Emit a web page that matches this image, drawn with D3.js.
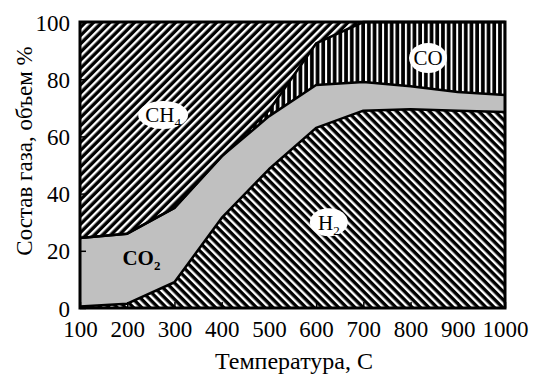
<!DOCTYPE html>
<html>
<head>
<meta charset="utf-8">
<script src="https://cdn.jsdelivr.net/npm/d3@7"></script>
<style>
  html, body { margin: 0; padding: 0; background: #fff; }
  svg text { font-family: "Liberation Serif", "Times New Roman", "DejaVu Serif", serif; fill: #000; }
</style>
</head>
<body>
<div id="chart"></div>
<script>
/* data: composition (vol. %) by temperature */
const temps = [100, 200, 300, 400, 500, 600, 700, 800, 900, 1000];
const h2    = [0.5, 1.5, 9,   31.5, 48.5, 63,  69,  69.5, 69,  68.5];
const co2   = [24,  24.5, 26, 21.5, 18.5, 15,  10,  8,    6.5, 6];
const co    = [0,   0,   0,   0,    2,    14.5, 21, 22.5, 24.5, 25.5];
const xTicks = [100, 200, 300, 400, 500, 600, 700, 800, 900, 1000];
const yTicks = [0, 20, 40, 60, 80, 100];
const keys = ["h2", "co2", "co", "ch4"];

const rows = temps.map((t, i) => ({
  t, h2: h2[i], co2: co2[i], co: co[i],
  ch4: Math.max(0, 100 - h2[i] - co2[i] - co[i])
}));

const W = 533, H = 374;
const margin = { top: 22, right: 28, bottom: 66, left: 80 };
const w = W - margin.left - margin.right;
const h = H - margin.top - margin.bottom;

const x = d3.scaleLinear().domain([100, 1000]).range([0, w]);
const y = d3.scaleLinear().domain([0, 100]).range([h, 0]);

const svg = d3.select("#chart").append("svg")
  .attr("width", W).attr("height", H);

// hatch patterns: black ground, white stripes
const defs = svg.append("defs");
function hatch(id, period, stripe, angle) {
  const p = defs.append("pattern")
    .attr("id", id).attr("patternUnits", "userSpaceOnUse")
    .attr("width", period).attr("height", period)
    .attr("patternTransform", `rotate(${angle})`);
  p.append("rect").attr("width", period).attr("height", period).attr("fill", "#000");
  p.append("rect").attr("x", 0).attr("width", stripe).attr("height", period).attr("fill", "#fff");
}
hatch("hatch-ch4", 5.8, 2.4, 45);
hatch("hatch-h2", 5.8, 2.4, -45);
hatch("hatch-co", 5.7, 2.0, 0);

const fills = { h2: "url(#hatch-h2)", co2: "#c0c0c0", co: "url(#hatch-co)", ch4: "url(#hatch-ch4)" };

const g = svg.append("g").attr("transform", `translate(${margin.left},${margin.top})`);

const series = d3.stack().keys(keys)(rows);

const area = d3.area()
  .x(d => x(d.data.t))
  .y0(d => y(d[0]))
  .y1(d => y(d[1]));

g.selectAll("path.layer").data(series).join("path")
  .attr("class", "layer")
  .attr("d", area)
  .attr("fill", d => fills[d.key]);

// boundary lines between layers
const edge = d3.line().x(d => x(d.data.t)).y(d => y(d[1]));
g.selectAll("path.edge").data(series.slice(0, 3)).join("path")
  .attr("class", "edge")
  .attr("d", edge)
  .attr("fill", "none")
  .attr("stroke", "#000")
  .attr("stroke-width", 2.5)
  .attr("stroke-linejoin", "round");

// frame
g.append("rect")
  .attr("x", 0).attr("y", 0).attr("width", w).attr("height", h)
  .attr("fill", "none").attr("stroke", "#000").attr("stroke-width", 3);

// axes
const yAxis = g.append("g").call(
  d3.axisLeft(y).tickValues(yTicks).tickSizeInner(-6).tickSizeOuter(0).tickPadding(10)
);
const xAxis = g.append("g").attr("transform", `translate(0,${h})`).call(
  d3.axisBottom(x).tickValues(xTicks).tickFormat(d3.format("d"))
    .tickSizeInner(-6).tickSizeOuter(0).tickPadding(13)
);
[xAxis, yAxis].forEach(a => {
  a.select(".domain").remove();
  a.selectAll(".tick line").attr("stroke", "#000").attr("stroke-width", 1.5);
  a.selectAll("text").attr("font-size", "23px")
    .attr("font-family", "Liberation Serif, serif").attr("fill", "#000");
});
yAxis.selectAll("text").attr("dy", "0.35em");

// titles
svg.append("text")
  .attr("x", 294).attr("y", 369)
  .attr("text-anchor", "middle").attr("font-size", "24px")
  .text("Температура, С");

svg.append("text")
  .attr("transform", "translate(32,151) rotate(-90)")
  .attr("text-anchor", "middle").attr("font-size", "23px")
  .text("Состав газа, объем %");

// series labels
const labels = [
  { name: "CH", sub: "4", t: 276, v: 67.5, rx: 25, ry: 14, bold: false, oval: true },
  { name: "CO", sub: "",  t: 837, v: 87.4, rx: 19, ry: 15, bold: false, oval: true },
  { name: "H",  sub: "2", t: 627, v: 30,   rx: 19, ry: 14, bold: false, oval: true },
  { name: "CO", sub: "2", t: 230, v: 17.5, rx: 0,  ry: 0,  bold: true,  oval: false }
];
labels.forEach(l => {
  const lg = g.append("g").attr("transform", `translate(${x(l.t)},${y(l.v)})`);
  if (l.oval) lg.append("ellipse").attr("rx", l.rx).attr("ry", l.ry).attr("fill", "#fff");
  const tx = lg.append("text")
    .attr("text-anchor", "middle").attr("dy", "0.35em")
    .attr("font-size", "21px")
    .attr("font-weight", l.bold ? "bold" : "normal");
  tx.append("tspan").text(l.name);
  if (l.sub) tx.append("tspan").attr("font-size", "13px").attr("dy", "5").text(l.sub);
});
</script>
</body>
</html>
